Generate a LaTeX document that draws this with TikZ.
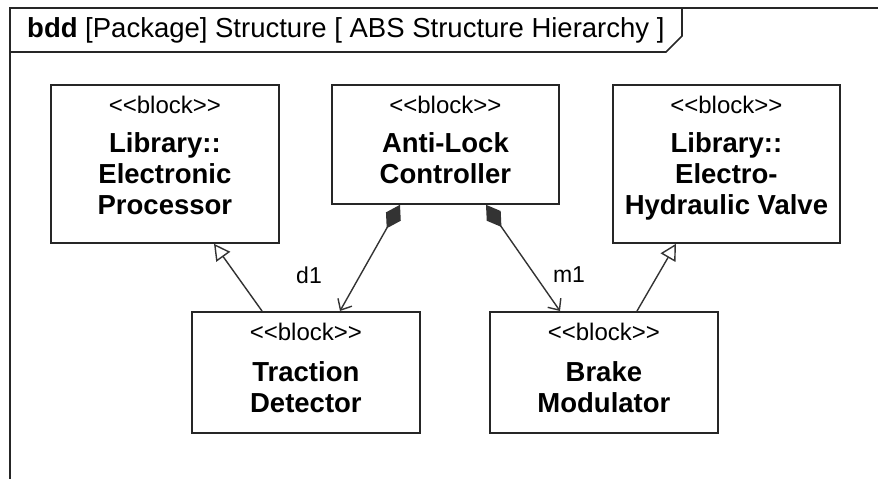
\documentclass[tikz,border=0pt]{standalone}
\usepackage{fontspec}
\setmainfont{Liberation Sans}
\usetikzlibrary{arrows.meta}

% keep the angle brackets apart so they are not joined into guillemets
\newcommand{\stereotype}[1]{<\kern0pt<#1>\kern0pt>}

\tikzset{
  x=1pt, y=-1pt,
  frameline/.style={line width=1.6pt, black!85},
  blk/.style={draw=black!85, line width=1.8pt, fill=white, inner sep=0pt, anchor=north west},
  stereo/.style={anchor=base, inner sep=0pt, font=\fontsize{24}{28}\selectfont},
  bname/.style={anchor=north, inner sep=0pt, align=center, font=\fontsize{27.5}{31}\selectfont\bfseries},
  generalize/.style={line width=1.4pt, black!80, -{Triangle[open, length=16pt, width=17pt, line width=1.4pt]}},
  compose/.style={line width=1.4pt, black!80, {Diamond[length=27pt, width=17pt]}-{Straight Barb[length=9pt, width=16pt, line width=1.4pt]}},
  rolelabel/.style={inner sep=0pt, font=\fontsize{23}{27}\selectfont},
}

\begin{document}
\begin{tikzpicture}
  \useasboundingbox (0,0) rectangle (878,479);

  % diagram frame with its name tab
  \coordinate (fo) at (10,8);
  \draw[frameline] (10,482) -- (fo) -- (882,8);
  \draw[frameline] (10,52) -- (666,52) -- (682,36) -- (682,8);
  \node[anchor=base west, inner sep=0pt, font=\fontsize{27.5}{31}\selectfont] (hdr) at (27,37)
    {\textbf{bdd} [Package] Structure [ ABS Structure Hierarchy ]};

  % blocks
  \node[blk, minimum width=228pt, minimum height=158pt] (ep) at (50,84) {};
  \node[blk, minimum width=227pt, minimum height=119pt] (al) at (331,84) {};
  \node[blk, minimum width=227pt, minimum height=158pt] (eh) at (612,84) {};
  \node[blk, minimum width=228pt, minimum height=121pt] (td) at (191,311) {};
  \node[blk, minimum width=228pt, minimum height=121pt] (bm) at (489,311) {};

  % block texts
  \foreach \b in {ep,al,eh,td,bm}{
    \node[stereo] (\b-st) at ([yshift=-29pt]\b.north) {\stereotype{block}};
  }
  \node[bname] (ep-nm) at ([yshift=-48pt]ep.north) {Library::\\Electronic\\Processor};
  \node[bname] (al-nm) at ([yshift=-48pt]al.north) {Anti-Lock\\Controller};
  \node[bname] (eh-nm) at ([yshift=-48pt]eh.north) {Library::\\Electro-\\Hydraulic Valve};
  \node[bname] (td-nm) at ([yshift=-50pt]td.north) {Traction\\Detector};
  \node[bname] (bm-nm) at ([yshift=-50pt]bm.north) {Brake\\Modulator};

  % generalizations
  \draw[generalize] (td.north west) ++(71,0) coordinate (g1s) -- (ep.south west -| 214,0);
  \draw[generalize] (bm.north west) ++(148,0) coordinate (g2s) -- (eh.south west -| 676,0);

  % compositions
  \draw[compose] (al.south west) ++(69,0) coordinate (c1s) -- (td.north west -| 340,0) coordinate (c1e);
  \draw[compose] (al.south west) ++(155,0) coordinate (c2s) -- (bm.north west -| 560,0) coordinate (c2e);

  % role names
  \node[rolelabel] (d1) at (309,275) {d1};
  \node[rolelabel] (m1) at (569,275) {m1};
\end{tikzpicture}
\end{document}
